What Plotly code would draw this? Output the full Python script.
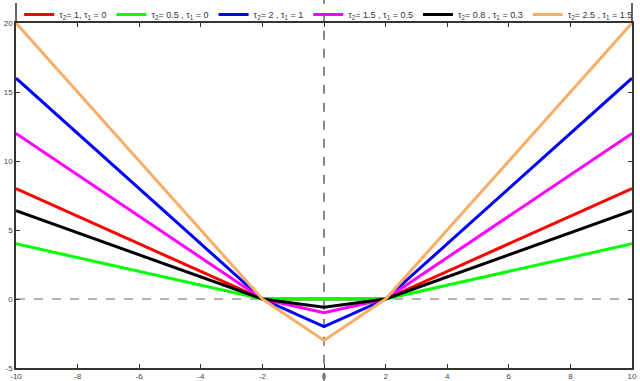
import plotly.graph_objects as go

x_vals = [-10, -2, 0, 2, 10]
series_names = [
    "τ<sub>2</sub>= 1, τ<sub>1</sub> = 0",
    "τ<sub>2</sub>= 0.5 , τ<sub>1</sub> = 0",
    "τ<sub>2</sub>= 2 , τ<sub>1</sub> = 1",
    "τ<sub>2</sub>= 1.5 , τ<sub>1</sub> = 0.5",
    "τ<sub>2</sub>= 0.8 , τ<sub>1</sub> = 0.3",
    "τ<sub>2</sub>= 2.5 , τ<sub>1</sub> = 1.5",
]
y_red = [8, 0, 0, 0, 8]
y_green = [4, 0, 0, 0, 4]
y_blue = [16, 0, -2, 0, 16]
y_magenta = [12, 0, -1, 0, 12]
y_black = [6.4, 0, -0.6, 0, 6.4]
y_orange = [20, 0, -3, 0, 20]
series_values = [y_red, y_green, y_blue, y_magenta, y_black, y_orange]
colors = ["#ff0000", "#00ff00", "#0000ff", "#ff00ff", "#000000", "#f8ae66"]

x_ticks = [-10, -8, -6, -4, -2, 0, 2, 4, 6, 8, 10]
y_ticks = [-5, 0, 5, 10, 15, 20]

fig = go.Figure()
for name, ys, c in zip(series_names, series_values, colors):
    fig.add_trace(go.Scatter(x=x_vals, y=ys, mode="lines", name=name,
                             line=dict(color=c, width=3)))

fig.add_shape(type="line", xref="x", yref="y", x0=-10, x1=10, y0=0, y1=0,
              line=dict(color="#666666", width=1, dash="dash"), layer="below")
fig.add_shape(type="line", xref="x", yref="paper", x0=0, x1=0, y0=-0.04, y1=1.07,
              line=dict(color="#111111", width=1, dash="dash"), layer="below")
# frame side lines extending up around the legend
fig.add_shape(type="line", xref="paper", yref="paper", x0=0, x1=0, y0=1, y1=1.058,
              line=dict(color="#333333", width=1.5))
fig.add_shape(type="line", xref="paper", yref="paper", x0=1, x1=1, y0=1, y1=1.058,
              line=dict(color="#333333", width=1.5))

axis_common = dict(showgrid=False, zeroline=False, showline=True, mirror="ticks",
                   linecolor="#333333", linewidth=1.5, ticks="inside", ticklen=4,
                   tickcolor="#333333", automargin=False,
                   tickfont=dict(family="Liberation Sans, Arial", size=8, color="#444444"))

fig.update_xaxes(range=[-10, 10], tickvals=x_ticks, ticktext=[str(v) for v in x_ticks],
                 **axis_common)
fig.update_yaxes(range=[-5, 20], tickvals=y_ticks, ticktext=[str(v) for v in y_ticks],
                 **axis_common)

fig.update_layout(
    width=640, height=381,
    margin=dict(l=16, r=8, t=23, b=13, autoexpand=False),
    paper_bgcolor="white", plot_bgcolor="white",
    font=dict(family="Liberation Sans, Arial", size=9, color="#333333"),
    legend=dict(orientation="h", xref="container", yref="container",
                x=0.03, xanchor="left", y=1.0, yanchor="top",
                bgcolor="rgba(0,0,0,0)", font=dict(size=9),
                itemwidth=30, tracegroupgap=0),
)

fig.write_html("out.html", config={"displayModeBar": False},
               post_script="document.body.style.margin='0';document.body.style.padding='0';")
